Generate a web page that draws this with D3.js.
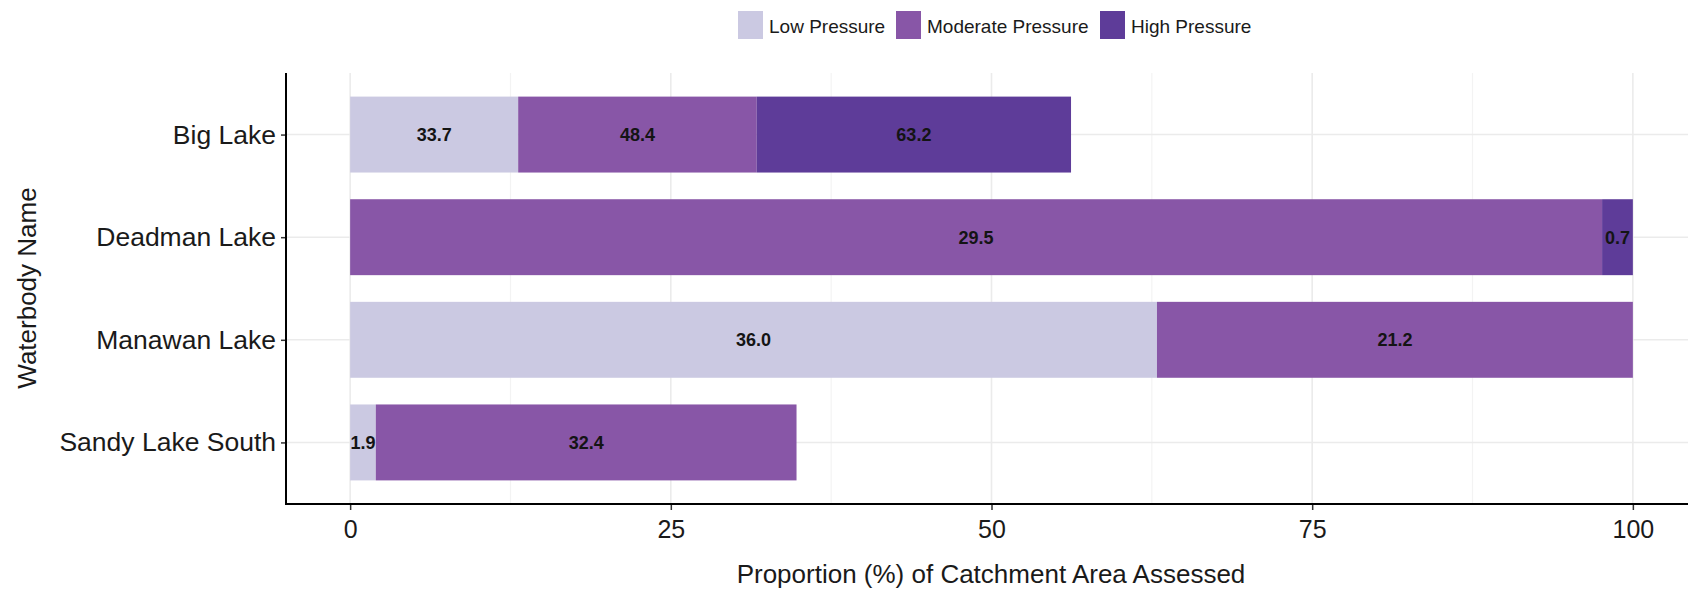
<!DOCTYPE html>
<html>
<head>
<meta charset="utf-8">
<script src="https://cdn.jsdelivr.net/npm/d3@7"></script>
<style>
  html, body { margin: 0; padding: 0; background: #fff; }
  svg { display: block; font-family: "Liberation Sans", Arial, sans-serif; }
</style>
</head>
<body>
<svg id="chart" width="1688" height="591"></svg>
<script>
// ---- data ----
const categories = ["Big Lake", "Deadman Lake", "Manawan Lake", "Sandy Lake South"];
const seriesNames = ["Low Pressure", "Moderate Pressure", "High Pressure"];
const seriesColors = ["#cbc9e2", "#8856a7", "#5e3c99"];
// bar lengths: proportion (%) of catchment area assessed
const lowPct = [13.1, 0, 62.9, 2.0];
const moderatePct = [18.6, 97.6, 37.1, 32.8];
const highPct = [24.5, 2.4, 0, 0];
// printed values on segments
const lowLabel = [33.7, null, 36.0, 1.9];
const moderateLabel = [48.4, 29.5, 21.2, 32.4];
const highLabel = [63.2, 0.7, null, null];
const xTicks = [0, 25, 50, 75, 100];
const xMinor = [12.5, 37.5, 62.5, 87.5];

const W = 1688, H = 591;
const svg = d3.select("#chart");

const panel = { left: 286, top: 73, bottom: 504, right: 1697 };
const x = d3.scaleLinear().domain([-5, 105]).range([panel.left, panel.right]);
const y = d3.scalePoint().domain(categories).range([panel.top, panel.bottom]).padding(0.6);
const barH = y.step() * 0.74;

const pcts = [lowPct, moderatePct, highPct];
const labels = [lowLabel, moderateLabel, highLabel];

// grid
const grid = svg.append("g");
grid.selectAll("line.minor").data(xMinor).join("line")
  .attr("x1", d => x(d)).attr("x2", d => x(d))
  .attr("y1", panel.top).attr("y2", panel.bottom)
  .attr("stroke", "#f3f3f3").attr("stroke-width", 1.2);
grid.selectAll("line.major").data(xTicks).join("line")
  .attr("x1", d => x(d)).attr("x2", d => x(d))
  .attr("y1", panel.top).attr("y2", panel.bottom)
  .attr("stroke", "#ebebeb").attr("stroke-width", 1.6);
grid.selectAll("line.hz").data(categories).join("line")
  .attr("x1", panel.left).attr("x2", W)
  .attr("y1", d => y(d)).attr("y2", d => y(d))
  .attr("stroke", "#ebebeb").attr("stroke-width", 1.6);

// stacked bars
const rows = categories.map((c, i) => {
  let acc = 0;
  return seriesNames.map((s, k) => {
    const v = pcts[k][i];
    const seg = { cat: c, k, x0: acc, x1: acc + v, label: labels[k][i] };
    acc += v;
    return seg;
  }).filter(s => s.x1 > s.x0);
}).flat();

svg.append("g").selectAll("rect").data(rows).join("rect")
  .attr("x", d => x(d.x0))
  .attr("width", d => x(d.x1) - x(d.x0))
  .attr("y", d => y(d.cat) - barH / 2)
  .attr("height", barH)
  .attr("fill", d => seriesColors[d.k]);

svg.append("g").selectAll("text").data(rows.filter(d => d.label != null)).join("text")
  .attr("x", d => x((d.x0 + d.x1) / 2))
  .attr("y", d => y(d.cat))
  .attr("dy", "0.36em")
  .attr("text-anchor", "middle")
  .attr("font-size", 18)
  .attr("font-weight", "bold")
  .attr("fill", "#141414")
  .text(d => d3.format(".1f")(d.label));

// axes
const xAxis = svg.append("g").attr("transform", `translate(0,${panel.bottom})`)
  .call(d3.axisBottom(x).tickValues(xTicks).tickSize(6).tickPadding(10).tickFormat(d3.format("d")));
xAxis.select(".domain").remove();
xAxis.selectAll("line").attr("stroke", "#333").attr("stroke-width", 1.5);
xAxis.selectAll("text").attr("font-size", 25).attr("fill", "#1a1a1a").attr("font-family", "Liberation Sans, Arial, sans-serif");

const yAxis = svg.append("g").attr("transform", `translate(${panel.left},0)`)
  .call(d3.axisLeft(y).tickSize(5).tickPadding(5));
yAxis.select(".domain").remove();
yAxis.selectAll("line").attr("stroke", "#333").attr("stroke-width", 1.5);
yAxis.selectAll("text").attr("font-size", 26.5).attr("fill", "#1a1a1a").attr("font-family", "Liberation Sans, Arial, sans-serif");

svg.append("line").attr("x1", panel.left).attr("x2", panel.left)
  .attr("y1", panel.top).attr("y2", panel.bottom + 1)
  .attr("stroke", "#000").attr("stroke-width", 2);
svg.append("line").attr("x1", panel.left - 1).attr("x2", W)
  .attr("y1", panel.bottom).attr("y2", panel.bottom)
  .attr("stroke", "#000").attr("stroke-width", 2);

// titles
svg.append("text").attr("x", 991).attr("y", 574).attr("dy", "0.36em")
  .attr("text-anchor", "middle").attr("font-size", 26).attr("fill", "#1a1a1a")
  .text("Proportion (%) of Catchment Area Assessed");
svg.append("text").attr("transform", "translate(27,288) rotate(-90)").attr("dy", "0.36em")
  .attr("text-anchor", "middle").attr("font-size", 26).attr("fill", "#1a1a1a")
  .text("Waterbody Name");

// legend
const legendX = [738, 896, 1100];
const lg = svg.append("g").selectAll("g").data(seriesNames).join("g")
  .attr("transform", (d, i) => `translate(${legendX[i]},11)`);
lg.append("rect").attr("width", 25).attr("height", 28).attr("fill", (d, i) => seriesColors[i]);
lg.append("text").attr("x", 31).attr("y", 15).attr("dy", "0.36em")
  .attr("font-size", 19).attr("fill", "#1a1a1a").text(d => d);
</script>
</body>
</html>
